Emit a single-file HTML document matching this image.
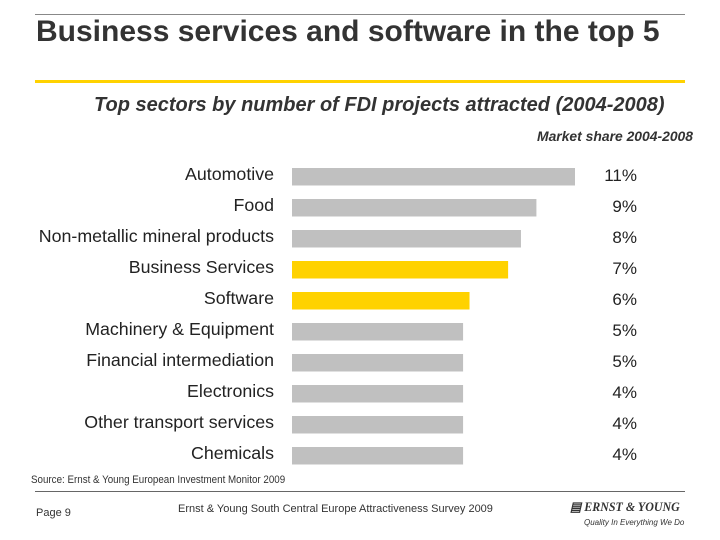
<!DOCTYPE html>
<html><head><meta charset="utf-8"><style>
body{margin:0;width:720px;height:540px;background:#fff;font-family:"Liberation Sans",Arial,sans-serif;position:relative;overflow:hidden}
.a{position:absolute;white-space:nowrap}
</style></head><body>
<div class="a" style="left:35px;top:14px;width:650px;height:1px;background:#888"></div>
<div class="a" style="left:36px;top:15px;font-size:30px;font-weight:bold;color:#333">Business services and software in the top 5</div>
<div class="a" style="left:35px;top:80px;width:650px;height:3px;background:#ffd200"></div>
<div class="a" style="left:94px;top:94px;font-size:20px;font-weight:bold;font-style:italic;color:#333">Top sectors by number of FDI projects attracted (2004-2008)</div>
<div class="a" style="right:27px;top:128px;font-size:13.9px;font-weight:bold;font-style:italic;color:#333">Market share 2004-2008</div>
<svg id="chart" class="a" style="left:0;top:0" width="720" height="540"></svg>
<div class="a" style="left:31px;top:474px;font-size:11px;color:#333;transform:scaleX(0.89);transform-origin:left">Source: Ernst &amp; Young European Investment Monitor 2009</div>
<div class="a" style="left:35px;top:491px;width:650px;height:1px;background:#666"></div>
<div class="a" style="left:36px;top:507px;font-size:11px;color:#333">Page 9</div>
<div class="a" style="left:178px;top:503px;font-size:11px;color:#333">Ernst &amp; Young South Central Europe Attractiveness Survey 2009</div>
<div class="a" style="left:570px;top:499px;font-size:13px;font-weight:bold;font-style:italic;color:#333;font-family:'Liberation Serif',serif;transform:scaleX(0.92);transform-origin:left">&#9636; ERNST &amp; YOUNG</div>
<div class="a" style="left:584px;top:518px;font-size:8px;font-style:italic;color:#333">Quality In Everything We Do</div>
<script>
const categories=["Automotive","Food","Non-metallic mineral products","Business Services","Software","Machinery & Equipment","Financial intermediation","Electronics","Other transport services","Chemicals"];
const values=[11.0,9.5,8.9,8.4,6.9,6.65,6.65,6.65,6.65,6.65];
const labels=["11%","9%","8%","7%","6%","5%","5%","4%","4%","4%"];
const highlighted=[false,false,false,true,true,false,false,false,false,false];
const svg=document.getElementById('chart');
const NS='http://www.w3.org/2000/svg';
const x0=292, scale=283/11.0;
const xs=v=>v*scale;
const ys=i=>168+i*31;
categories.forEach((c,i)=>{
  const r=document.createElementNS(NS,'rect');
  r.setAttribute('x',x0);r.setAttribute('y',ys(i));
  r.setAttribute('width',xs(values[i]));r.setAttribute('height',17.5);
  r.setAttribute('fill',highlighted[i]?'#ffd200':'#c0c0c0');
  
  
  svg.appendChild(r);
  const t=document.createElementNS(NS,'text');
  t.setAttribute('x',274);t.setAttribute('y',ys(i)+12);
  t.setAttribute('text-anchor','end');t.setAttribute('font-size','17.8');t.setAttribute('fill','#222');
  t.setAttribute('font-family','Liberation Sans, sans-serif');
  t.textContent=c;
  
  
  svg.appendChild(t);
  const v=document.createElementNS(NS,'text');
  v.setAttribute('x',637);v.setAttribute('y',ys(i)+13);
  v.setAttribute('text-anchor','end');v.setAttribute('font-size','17');v.setAttribute('fill','#222');
  v.setAttribute('font-family','Liberation Sans, sans-serif');
  v.textContent=labels[i];
  
  
  svg.appendChild(v);
});
</script>
</body></html>
